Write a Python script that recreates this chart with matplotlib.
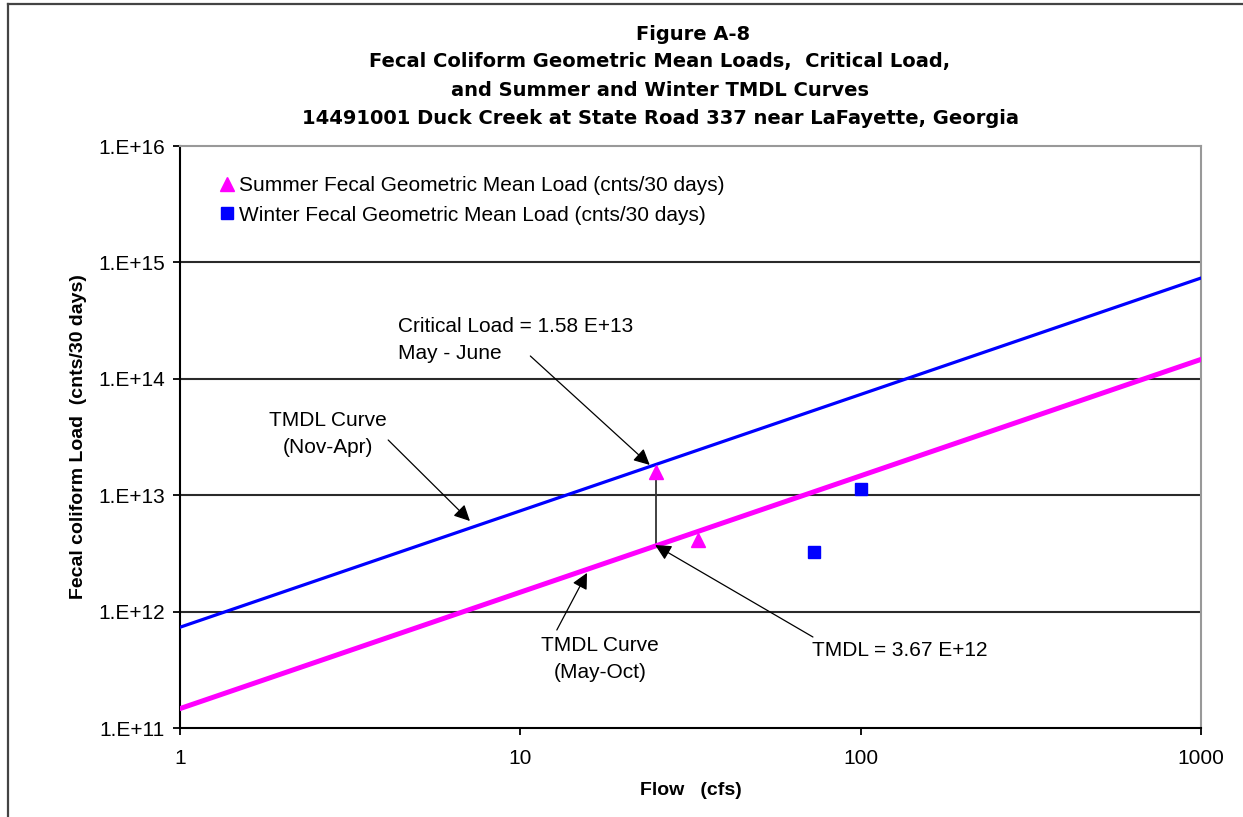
import numpy as np
import matplotlib
matplotlib.use("Agg")
import matplotlib.pyplot as plt
from matplotlib.ticker import FixedLocator, FuncFormatter, NullLocator
from matplotlib.lines import Line2D

# TMDL curves (flow in cfs, load in counts / 30 days)
curve_flow = [1, 1000]
summer_tmdl = [1.468e11, 1.468e14]
winter_tmdl = [7.34e11, 7.34e14]

# Geometric mean loads
summer_flow = [25.0, 33.3]
summer_load = [1.58e13, 4.1e12]
winter_flow = [73.0, 100.0]
winter_load = [3.25e12, 1.12e13]

critical_flow = 25.0
critical_load = 1.58e13
tmdl_at_critical = 3.67e12

x_ticks = [1, 10, 100, 1000]
y_ticks = [1e11, 1e12, 1e13, 1e14, 1e15, 1e16]

title_lines = [
    "Figure A-8",
    "Fecal Coliform Geometric Mean Loads,  Critical Load,",
    "and Summer and Winter TMDL Curves",
    "14491001 Duck Creek at State Road 337 near LaFayette, Georgia",
]

plt.rcParams['font.family'] = ['Liberation Sans', 'DejaVu Sans']

W, H = 1243, 817
fig = plt.figure(figsize=(W / 100, H / 100), dpi=100)
ax = fig.add_axes([180 / W, 1 - 728 / H, 1021 / W, 582 / H])

ax.set_xscale('log')
ax.set_yscale('log')
ax.set_xlim(1, 1000)
ax.set_ylim(1e11, 1e16)

# decade gridlines
for yv in y_ticks[1:-1]:
    ax.axhline(yv, color='#2a2a2a', lw=1.5, zorder=1)

ax.plot(curve_flow, winter_tmdl, color='#0000ff', lw=2.3, zorder=3)
ax.plot(curve_flow, summer_tmdl, color='#ff00ff', lw=3.6, zorder=3)

ax.plot(summer_flow, summer_load, linestyle='none', marker='^', ms=10,
        color='#ff00ff', zorder=4,
        label='Summer Fecal Geometric Mean Load (cnts/30 days)')
ax.plot(winter_flow, winter_load, linestyle='none', marker='s', ms=8.5,
        color='#0000ff', zorder=4,
        label='Winter Fecal Geometric Mean Load (cnts/30 days)')

# critical-load drop line
ax.plot([critical_flow, critical_flow], [tmdl_at_critical, critical_load],
        color='#333333', lw=1.3, zorder=2)

arrow = dict(arrowstyle='-|>', color='black', lw=0.9, mutation_scale=24,
             shrinkA=0, shrinkB=0)

fs = 15
ls = 1.5
ax.annotate('', xy=(24.0, 1.82e13), xytext=(10.7, 1.57e14), arrowprops=arrow, zorder=5)
ax.text(10 ** (218 / 340.33), 10 ** (11 + (728 - 340) / 116.4),
        'Critical Load = 1.58 E+13\nMay - June', fontsize=fs,
        ha='left', va='center', linespacing=ls)

ax.annotate('', xy=(7.11, 6.0e12), xytext=(4.09, 2.98e13), arrowprops=arrow, zorder=5)
ax.text(10 ** (148 / 340.33), 10 ** (11 + (728 - 434) / 116.4),
        'TMDL Curve\n(Nov-Apr)', fontsize=fs, ha='center', va='center',
        linespacing=ls)

ax.annotate('', xy=(15.7, 2.15e12), xytext=(12.8, 6.95e11), arrowprops=arrow, zorder=5)
ax.text(10 ** (420 / 340.33), 10 ** (11 + (728 - 659) / 116.4),
        'TMDL Curve\n(May-Oct)', fontsize=fs, ha='center', va='center',
        linespacing=ls)

ax.annotate('', xy=(24.9, 3.73e12), xytext=(72.4, 6.05e11), arrowprops=arrow, zorder=5)
ax.text(10 ** (632 / 340.33), 10 ** (11 + (728 - 650) / 116.4),
        'TMDL = 3.67 E+12', fontsize=fs, ha='left', va='center')

# axes styling
for side in ('top', 'right'):
    ax.spines[side].set_color('#999999')
    ax.spines[side].set_linewidth(1.5)
for side in ('left', 'bottom'):
    ax.spines[side].set_color('black')
    ax.spines[side].set_linewidth(1.5)

ax.xaxis.set_major_locator(FixedLocator(x_ticks))
ax.xaxis.set_minor_locator(NullLocator())
ax.yaxis.set_major_locator(FixedLocator(y_ticks))
ax.yaxis.set_minor_locator(NullLocator())
ax.xaxis.set_major_formatter(FuncFormatter(lambda v, p: f"{v:g}"))
ax.yaxis.set_major_formatter(
    FuncFormatter(lambda v, p: f"1.E+{int(round(np.log10(v)))}"))
ax.tick_params(axis='both', direction='out', length=5, width=1.3,
               color='black', labelsize=fs, pad=6)
ax.tick_params(axis='x', pad=10)

ax.set_xlabel('Flow   (cfs)', fontsize=14, fontweight='bold', labelpad=10)
ax.set_ylabel('Fecal coliform Load  (cnts/30 days)', fontsize=14,
              fontweight='bold', labelpad=8)

ax.legend(loc='upper left', bbox_to_anchor=(0.04, 0.948), frameon=False,
          fontsize=fs, handlelength=0.6, handletextpad=0.25, labelspacing=0.5,
          borderpad=0, borderaxespad=0, markerscale=1.0)

# title block
title_pos = [(693, 35), (660, 62), (660, 90), (660, 118)]
for line, (tx, ty) in zip(title_lines, title_pos):
    fig.text(tx / W, 1 - ty / H, line, ha='center', va='center',
             fontsize=14, fontweight='bold', family=['DejaVu Sans'])

# outer frame
fig.add_artist(Line2D([8 / W, 1.0], [1 - 4 / H, 1 - 4 / H], color='#444444',
                      lw=1.6, transform=fig.transFigure))
fig.add_artist(Line2D([8 / W, 8 / W], [0.0, 1 - 4 / H], color='#444444',
                      lw=1.6, transform=fig.transFigure))

fig.savefig('out.png', dpi=100)
